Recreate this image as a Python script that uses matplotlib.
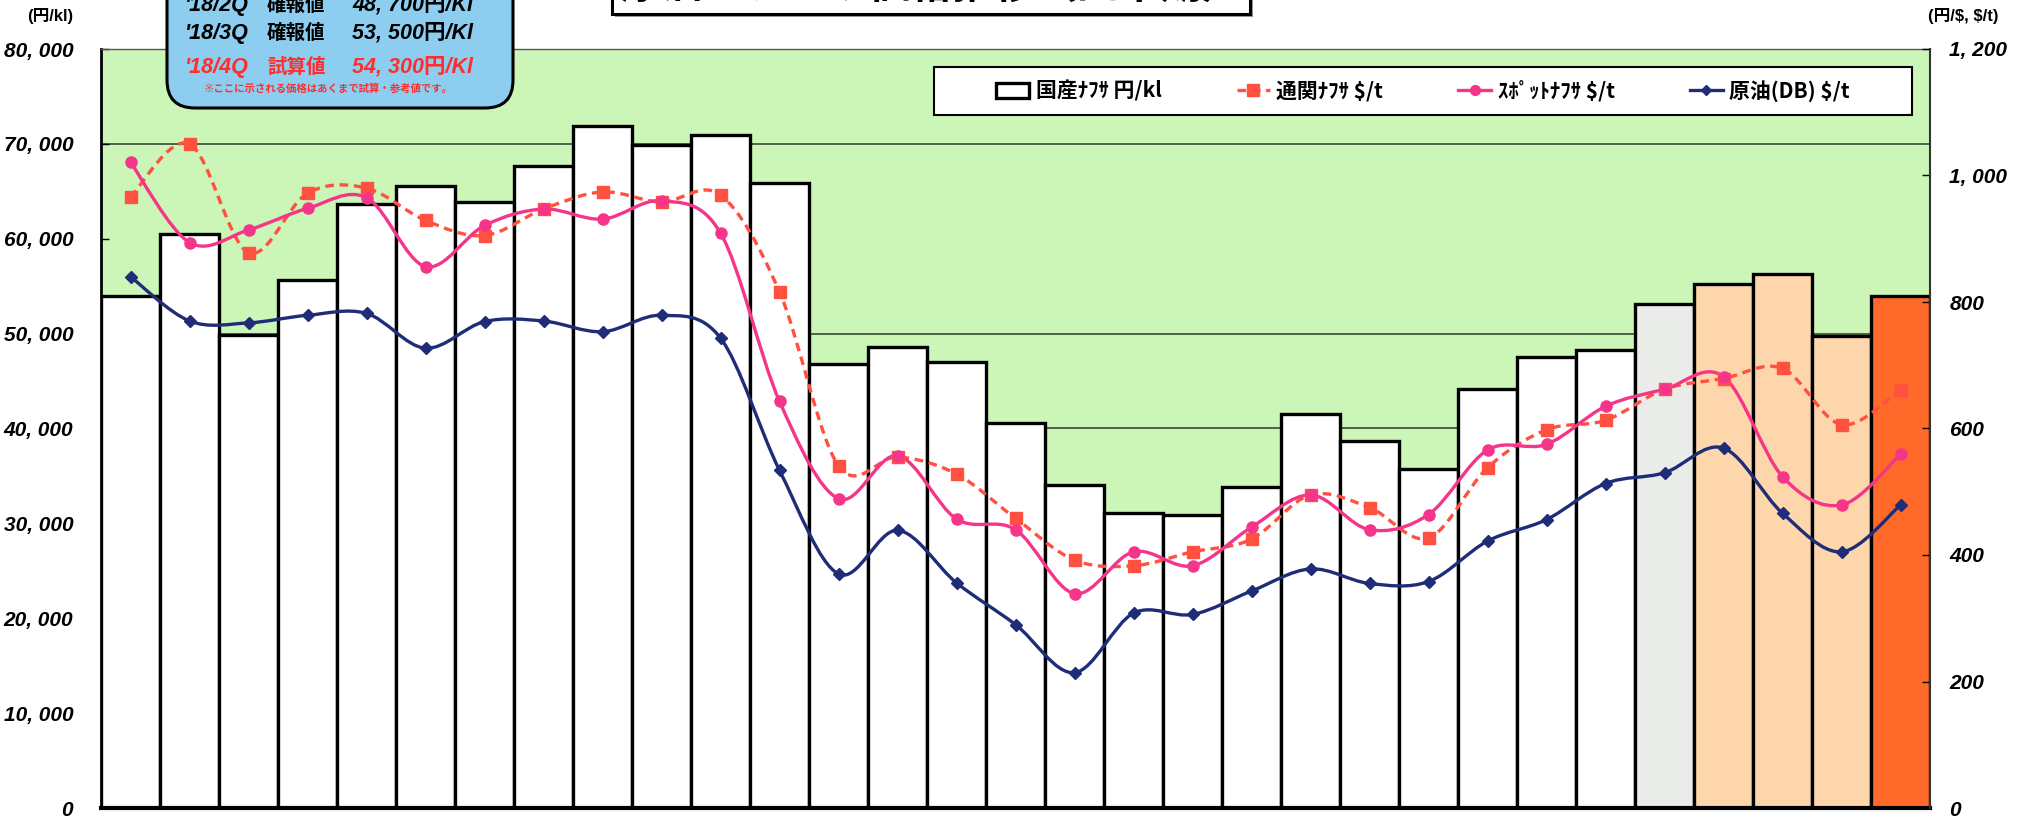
"""
国産ナフサ・通関ナフサ・スポットナフサ・原油(DB) 価格推移チャート
"""
import numpy as np
import matplotlib
matplotlib.use("Agg")
import matplotlib.pyplot as plt
from matplotlib.path import Path
from matplotlib.patches import PathPatch, Rectangle, FancyBboxPatch, Patch
from matplotlib.lines import Line2D
from matplotlib.ticker import FuncFormatter

plt.rcParams["font.family"] = ["Liberation Sans", "Noto Sans CJK JP", "DejaVu Sans"]

# ── data ─────────────────────────────────────────────────────────────────────
# 国産ナフサ 円/kl (bars, left axis)
domestic_naphtha = [54000, 60500, 49900, 55700, 63700, 65600, 63900, 67700,
                    71900, 69900, 70900, 65900, 46800, 48600, 47000, 40600,
                    34000, 31100, 30900, 33800, 41500, 38700, 35700, 44200,
                    47500, 48300, 53100, 55200, 56300, 49700, 54000]
# bar status: actual / preliminary / recent quarters / trial estimate
bar_status = ["actual"] * 26 + ["prelim"] + ["recent"] * 3 + ["trial"]

# 通関ナフサ $/t (right axis)
customs_naphtha = [966, 1050, 878, 972, 980, 929, 905, 947, 974, 958, 969,
                   816, 541, 555, 528, 458, 392, 383, 405, 425, 495, 475,
                   427, 538, 598, 613, 662, 679, 695, 606, 661]
# スポットナフサ $/t
spot_naphtha = [1021, 894, 914, 948, 965, 856, 921, 947, 931, 960, 909,
                643, 489, 557, 457, 440, 339, 405, 383, 444, 495, 440,
                464, 566, 575, 635, 662, 682, 524, 479, 559]
# 原油(DB) $/t
crude_db = [840, 770, 767, 779, 782, 727, 769, 770, 753, 779, 743,
            534, 370, 439, 356, 290, 214, 308, 306, 343, 378, 355,
            358, 422, 456, 513, 530, 569, 466, 405, 479]

legend_labels = ["国産ﾅﾌｻ 円/kl", r"通関ﾅﾌｻ \$/t", r"ｽﾎﾟｯﾄﾅﾌｻ \$/t", r"原油(DB) \$/t"]

info_rows = [("'18/2Q", "確報値", "48, 700円/Kl", "black"),
             ("'18/3Q", "確報値", "53, 500円/Kl", "black"),
             ("'18/4Q", "試算値", "54, 300円/Kl", "#ff2d2d")]
info_note = "※ここに示される価格はあくまで試算・参考値です。"
title_text = "原油・ナフサ価格推移（四半期）"

# ── style ────────────────────────────────────────────────────────────────────
BAR_COLORS = {"actual": "white", "prelim": "#e9ece9",
              "recent": "#fdd6ab", "trial": "#ff6a2b"}
GREEN = "#ccf5b8"
C_CUSTOMS = "#ff5040"
C_SPOT = "#f5358a"
C_CRUDE = "#1f2d78"
TICK_FONT = dict(fontsize=15, fontweight="bold", fontstyle="italic")

W, H = 2028, 822
fig = plt.figure(figsize=(W / 100, H / 100), dpi=100)


def px(x, y):
    """pixel position (from top-left) -> inches for dpi_scale_trans"""
    return x / 100, (H - y) / 100


def smooth_path(xs, ys):
    # Excel-like smoothed line: cubic bezier through every point
    pts = np.column_stack([xs, ys]).astype(float)
    n = len(pts)
    verts, codes = [pts[0]], [Path.MOVETO]
    for i in range(n - 1):
        p0, p1 = pts[max(i - 1, 0)], pts[i]
        p2, p3 = pts[i + 1], pts[min(i + 2, n - 1)]
        verts += [p1 + (p2 - p0) / 6, p2 - (p3 - p1) / 6, p2]
        codes += [Path.CURVE4] * 3
    return Path(verts, codes)


def comma_space(v, _):
    return f"{v:,.0f}".replace(",", ", ")


# ── axes ─────────────────────────────────────────────────────────────────────
ax = fig.add_axes([101 / W, 1 - 808 / H, 1829 / W, 759 / H])
ax.set_facecolor(GREEN)
x = np.arange(len(domestic_naphtha))
ax.set_xlim(-0.5, len(x) - 0.5)
ax.set_ylim(0, 80000)
for gy in (70000, 50000, 40000):
    ax.axhline(gy, color="#2c3a2c", lw=1.1, zorder=1)
ax.bar(x, domestic_naphtha, width=1.0,
       color=[BAR_COLORS[s] for s in bar_status],
       edgecolor="black", linewidth=2.4, zorder=2)

ax.set_yticks(np.arange(0, 80001, 10000))
ax.yaxis.set_major_formatter(FuncFormatter(comma_space))
ax.tick_params(axis="y", direction="in", length=6, width=1, pad=20)
ax.tick_params(axis="x", length=0, labelbottom=False)
for lab in ax.get_yticklabels():
    lab.set(**TICK_FONT)
ax.spines["bottom"].set_linewidth(3)
ax.spines["left"].set_linewidth(2)
ax.spines["top"].set_linewidth(1)
ax.spines["top"].set_color("#555555")
ax.spines["right"].set_visible(False)

ax2 = ax.twinx()
ax2.set_ylim(0, 1200)
ax2.set_yticks(np.arange(0, 1201, 200))
ax2.yaxis.set_major_formatter(FuncFormatter(comma_space))
ax2.tick_params(axis="y", direction="in", length=6, width=1, pad=14)
for lab in ax2.get_yticklabels():
    lab.set(**TICK_FONT)
for s in ("top", "bottom", "left"):
    ax2.spines[s].set_visible(False)
ax2.spines["right"].set_linewidth(1.5)
ax2.spines["right"].set_color("#333333")

# smoothed lines + markers
series = [
    (customs_naphtha, C_CUSTOMS, (0, (2.6, 1.7)), "s", 9),
    (spot_naphtha, C_SPOT, "-", "o", 8),
    (crude_db, C_CRUDE, "-", "D", 6),
]
handles = [Patch(facecolor="white", edgecolor="black", linewidth=2.4)]
for vals, col, ls, mk, ms in series:
    ax2.add_patch(PathPatch(smooth_path(x, vals), fill=False, edgecolor=col,
                            linewidth=2.4, linestyle=ls, zorder=3))
    ax2.plot(x, vals, ls="none", marker=mk, ms=ms, color=col, zorder=4)
    handles.append(Line2D([], [], color=col, lw=2.4, ls=ls, marker=mk, ms=ms - 1))

# legend box
lx0, ly0, lw_, lh_ = (934 - 101) / 1829, (808 - 115) / 759, 978 / 1829, 48 / 759
ax2.add_patch(Rectangle((lx0, ly0), lw_, lh_, transform=ax2.transAxes,
                        facecolor="white", edgecolor="black", lw=1.5, zorder=6))
leg = ax2.legend(handles, legend_labels, ncol=4, loc="center",
                 bbox_to_anchor=(lx0 + lw_ / 2, ly0 + lh_ / 2),
                 frameon=False, handlelength=1.6, handletextpad=0.3,
                 columnspacing=3.6, numpoints=1,
                 prop={"family": ["Noto Sans CJK JP", "DejaVu Sans"],
                       "weight": "bold", "size": 15})
leg.set_zorder(7)

# ── texts outside the plot ──────────────────────────────────────────────────
fig.text(*px(50, 16), "(円/kl)", transform=fig.dpi_scale_trans,
         ha="center", va="center", fontsize=12, fontweight="bold")
fig.text(*px(1963, 16), r"(円/\$, \$/t)", transform=fig.dpi_scale_trans,
         ha="center", va="center", fontsize=12, fontweight="bold")

# title box (mostly cut off at the top)
fig.patches.append(Rectangle(px(615, 17), 6.38, 0.6, transform=fig.dpi_scale_trans,
                             facecolor="#999999", edgecolor="none", zorder=1))
fig.patches.append(Rectangle(px(612, 14), 6.38, 0.6, transform=fig.dpi_scale_trans,
                             facecolor="white", edgecolor="black", lw=2.2, zorder=2))
fig.text(*px(931, 8), title_text, transform=fig.dpi_scale_trans,
         ha="center", va="bottom", fontsize=30, fontweight="bold",
         family=["Noto Sans CJK JP"], zorder=3)

# blue info box
fig.patches.append(FancyBboxPatch(px(167, 108), 3.46, 1.5,
                                  boxstyle="round,pad=0,rounding_size=0.28",
                                  transform=fig.dpi_scale_trans,
                                  facecolor="#8ccdf0", edgecolor="black",
                                  lw=2.2, zorder=5))
for (q, kind, val, col), ty in zip(info_rows, (5, 33, 67)):
    fig.text(*px(185, ty), q, transform=fig.dpi_scale_trans, ha="left",
             va="center", fontsize=15.5, fontweight="bold", fontstyle="italic",
             color=col, zorder=6)
    fig.text(*px(267, ty), kind, transform=fig.dpi_scale_trans, ha="left",
             va="center", fontsize=14, fontweight="bold", color=col,
             family=["Noto Sans CJK JP"], zorder=6)
    fig.text(*px(352, ty), val, transform=fig.dpi_scale_trans, ha="left",
             va="center", fontsize=15.5, fontweight="bold", fontstyle="italic",
             color=col, zorder=6)
fig.text(*px(328, 88), info_note, transform=fig.dpi_scale_trans, ha="center",
         va="center", fontsize=7.5, fontweight="bold", color="#ff2d2d",
         family=["Noto Sans CJK JP"], zorder=6)

fig.savefig("out.png", dpi=100)
